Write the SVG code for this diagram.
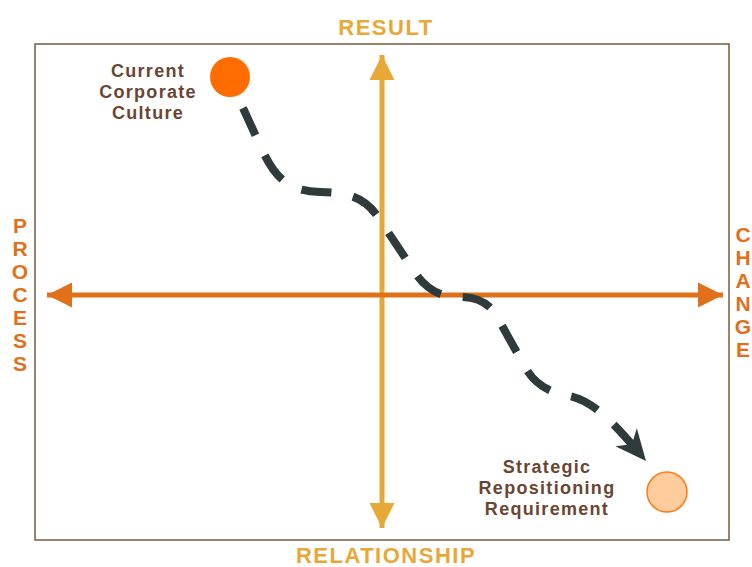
<svg xmlns="http://www.w3.org/2000/svg" width="752" height="567" viewBox="0 0 752 567">
<style>
.axis-label{font-family:"Liberation Sans",Arial,sans-serif;font-weight:bold;font-size:22px;letter-spacing:1.5px;text-anchor:middle}
.side{font-family:"Liberation Sans",Arial,sans-serif;font-weight:bold;font-size:21px;text-anchor:middle;fill:#E0701A}
.node-label{font-family:"Liberation Sans",Arial,sans-serif;font-weight:bold;font-size:18px;letter-spacing:1.3px;text-anchor:middle;fill:#6B4532}
</style>
<defs>
<marker id="headV" markerUnits="userSpaceOnUse" markerWidth="30" markerHeight="30" viewBox="-20 -12 22 24" refX="0" refY="0" orient="auto-start-reverse">
<path d="M0,0 L-20,-10 L-20,10 Z" fill="#E8A838"/>
</marker>
<marker id="headH" markerUnits="userSpaceOnUse" markerWidth="30" markerHeight="30" viewBox="-20 -12 22 24" refX="0" refY="0" orient="auto-start-reverse">
<path d="M0,0 L-20,-10 L-20,10 Z" fill="#E0701A"/>
</marker>
<marker id="headD" markerUnits="userSpaceOnUse" markerWidth="40" markerHeight="40" viewBox="-34 -20 36 40" refX="0" refY="0" orient="auto">
<path d="M0,0 L-31,-14 L-22,0 L-31,14 Z" fill="#2F3A3A"/>
</marker>
</defs>
<rect x="35" y="44" width="694" height="496" fill="#FFFFFF" stroke="#7A5A45" stroke-width="1.5"/>
<g id="connectors">
<line x1="382" y1="528" x2="382" y2="55" stroke="#E8A838" stroke-width="5" marker-start="url(#headV)" marker-end="url(#headV)"/>
<line x1="47" y1="295" x2="723" y2="295" stroke="#E0701A" stroke-width="5" marker-start="url(#headH)" marker-end="url(#headH)"/>
<path d="M243,108 L260,145 C275,180 290,191 320,192 C348,193 365,196 380,220 L412,268 C425,290 440,297 460,297 C480,297 492,305 500,322 L525,367 C535,385 550,393 570,396 C592,401 610,418 646,461" fill="none" stroke="#2F3A3A" stroke-width="8" stroke-dasharray="30,22" marker-end="url(#headD)"/>
</g>
<g id="axis-labels">
<text class="axis-label" x="386" y="35" fill="#E8A838">RESULT</text>
<text class="axis-label" x="386" y="563" fill="#E8A838">RELATIONSHIP</text>
<text class="side" x="20" y="233">P</text>
<text class="side" x="20" y="256">R</text>
<text class="side" x="20" y="279">O</text>
<text class="side" x="20" y="302">C</text>
<text class="side" x="20" y="325">E</text>
<text class="side" x="20" y="348">S</text>
<text class="side" x="20" y="371">S</text>
<text class="side" x="743" y="242">C</text>
<text class="side" x="743" y="265">H</text>
<text class="side" x="743" y="288">A</text>
<text class="side" x="743" y="311">N</text>
<text class="side" x="743" y="334">G</text>
<text class="side" x="743" y="357">E</text>
</g>
<g id="current">
<circle cx="230" cy="77" r="20" fill="#FF6D00"/>
<text class="node-label" x="148" y="77">Current</text>
<text class="node-label" x="148" y="98">Corporate</text>
<text class="node-label" x="148" y="119">Culture</text>
</g>
<g id="strategic">
<circle cx="667" cy="492" r="20" fill="#FFCC9E" stroke="#FF7A14" stroke-width="1.5"/>
<text class="node-label" x="547" y="473">Strategic</text>
<text class="node-label" x="547" y="494">Repositioning</text>
<text class="node-label" x="547" y="515">Requirement</text>
</g>
</svg>
